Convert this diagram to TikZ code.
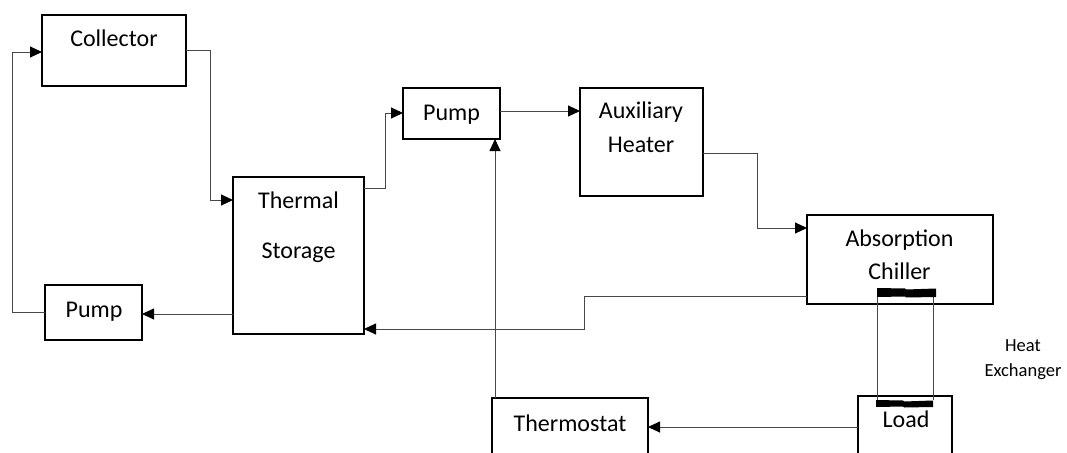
\documentclass[tikz,border=0pt]{standalone}
\usepackage{fontspec}
\setmainfont{Carlito}
\usetikzlibrary{arrows.meta}
\begin{document}
\begin{tikzpicture}[x=1pt,y=-1pt,
  box/.style={draw=black, line width=1.6pt, inner sep=0pt, outer sep=0pt, fill=none},
  lbl/.style={anchor=base, inner sep=0pt, font=\fontsize{24}{28}\selectfont},
  small/.style={anchor=base, inner sep=0pt, font=\fontsize{18.5}{22}\selectfont},
  conn/.style={draw=black!72, line width=0.9pt},
  arr/.style={-{Triangle[length=12pt,width=11pt,color=black]}},
  hx/.style={fill=black}]
\useasboundingbox (0,0) rectangle (1067,452);
\clip (0,0) rectangle (1067,452);
% boxes
\node[box, minimum width=144pt, minimum height=71pt] (coll) at (114,50.5) {};
\node[box, minimum width=131pt, minimum height=157pt] (ts) at (298.5,255.5) {};
\node[box, minimum width=97pt, minimum height=55pt] (pumpL) at (93.5,312.5) {};
\node[box, minimum width=97pt, minimum height=51pt] (pumpT) at (451.5,113.5) {};
\node[box, minimum width=123pt, minimum height=108pt] (aux) at (641.5,142) {};
\node[box, minimum width=186pt, minimum height=89pt] (chill) at (900,259.5) {};
\node[box, minimum width=94pt, minimum height=100pt] (load) at (905,446) {};
\node[box, minimum width=156pt, minimum height=100pt] (thermo) at (570,448) {};
% texts
\node[lbl] (tcoll) at (114,46) {Collector};
\node[lbl] (tts1) at (298.5,208) {Thermal};
\node[lbl] (tts2) at (298.5,258) {Storage};
\node[lbl] (tpl) at (94,317) {Pump};
\node[lbl] (tpt) at (451.5,120) {Pump};
\node[lbl] (taux1) at (641,118) {Auxiliary};
\node[lbl] (taux2) at (641,152) {Heater};
\node[lbl] (tch1) at (899.5,246) {Absorption};
\node[lbl] (tch2) at (899.5,279) {Chiller};
\node[lbl] (tload) at (906,427) {Load};
\node[lbl] (tthermo) at (570,431) {Thermostat};
\node[small] (thx1) at (1023,351) {Heat};
\node[small] (thx2) at (1023,376) {Exchanger};
% connectors
\draw[conn,arr] (coll.east |- 0,50) -- (210,50) |- (ts.west |- 0,200);
\draw[conn,arr] (ts.east |- 0,188) -- (385,188) |- (pumpT.west |- 0,113);
\draw[conn,arr] (pumpT.east |- 0,111) -- (aux.west |- 0,111);
\draw[conn,arr] (aux.east |- 0,153) -- (757,153) |- (chill.west |- 0,228);
\draw[conn,arr] (chill.west |- 0,296) -- (584,296) |- (ts.east |- 0,329);
\draw[conn,arr] (ts.west |- 0,314) -- (pumpL.east |- 0,314);
\draw[conn,arr] (pumpL.west |- 0,312) -- (12,312) |- (coll.west |- 0,52);
\draw[conn,arr] (thermo.north -| 495,0) -- (pumpT.south -| 495,0);
\draw[conn,arr] (load.west |- 0,427) -- (thermo.east |- 0,427);
% heat exchanger
\coordinate (hxt1) at (877,297);
\coordinate (hxb1) at (877,400);
\coordinate (hxt2) at (933,297);
\coordinate (hxb2) at (933,400);
\draw[conn] (hxt1) -- (hxb1);
\draw[conn] (hxt2) -- (hxb2);
\fill[hx] (877,288) -- (905,288.5) -- (906,289.5) -- (936,288.5) -- (936,297) -- (906,297.5) -- (905,296.5) -- (877,297) -- cycle;
\fill[hx] (876,400) -- (903,400.5) -- (904,401.5) -- (933,400.5) -- (933,407) -- (904,407.5) -- (903,406.5) -- (876,407) -- cycle;
\end{tikzpicture}
\end{document}
